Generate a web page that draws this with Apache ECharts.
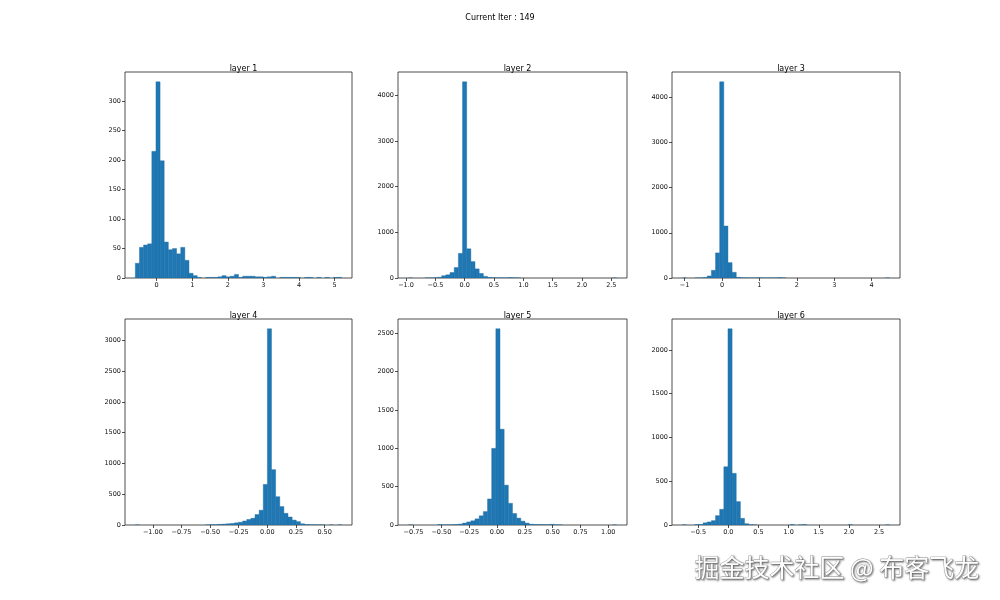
<!DOCTYPE html>
<html>
<head>
<meta charset="utf-8">
<script src="https://cdn.jsdelivr.net/npm/echarts@6/dist/echarts.min.js"></script>
<style>
  html, body { margin: 0; padding: 0; background: #fff; }
  #main { width: 1000px; height: 600px; }
</style>
</head>
<body>
<div id="main"></div>
<script>
// 每层的直方图 (50 bins)
var layerNames = ['layer 1', 'layer 2', 'layer 3', 'layer 4', 'layer 5', 'layer 6']
var binRanges = [[-0.6, 5.2], [-0.96, 2.59], [-1.06, 4.48], [-1.153, 0.649], [-0.796, 1.075], [-0.762, 2.675]]

var layer1Counts = [25, 52, 56, 58, 215, 333, 199, 61, 48, 50, 41, 52, 30, 8, 4, 1,
  0, 1, 1, 1, 2, 4, 2, 3, 6, 1, 3, 3, 3, 2, 2, 1, 2, 3, 0, 1, 1, 1, 1, 1, 0, 1, 1, 0, 1, 0, 1, 0, 1, 1]
var layer2Counts = [1, 0, 0, 0, 1, 2, 5, 15, 50, 70, 120, 230, 540, 4300, 640, 360, 200, 100, 35, 12,
  5, 3, 2, 1, 10, 3, 1, 0, 0, 0, 0, 0, 0, 0, 0, 0, 0, 0, 0, 0, 0, 0, 0, 0, 0, 0, 0, 0, 0, 1]
var layer3Counts = [1, 0, 0, 1, 2, 10, 45, 170, 555, 4340, 1150, 340, 126, 15, 5, 2, 1, 1, 5, 1,
  1, 1, 2, 8, 1, 0, 0, 0, 0, 0, 0, 0, 0, 0, 0, 0, 0, 0, 0, 0, 0, 0, 0, 0, 0, 0, 0, 0, 0, 1]
var layer4Counts = [1, 0, 0, 0, 0, 0, 0, 0, 0, 0, 0, 0, 0, 0, 0, 0, 0, 1, 4, 6,
  10, 14, 20, 25, 35, 45, 65, 90, 110, 170, 240, 660, 3190, 900, 460, 300, 190, 130, 80, 55,
  20, 8, 5, 3, 2, 1, 0, 1, 0, 1]
var layer5Counts = [1, 0, 0, 0, 0, 0, 0, 5, 2, 2, 3, 6, 12, 25, 40, 55, 80, 120, 175, 340,
  1000, 2560, 1250, 520, 283, 150, 90, 50, 25, 10, 6, 5, 4, 3, 8, 2, 1, 0, 0, 0,
  0, 0, 0, 0, 0, 0, 0, 0, 0, 1]
var layer6Counts = [1, 0, 0, 5, 5, 25, 35, 50, 107, 179, 665, 2240, 590, 267, 76, 15, 3, 1, 0, 0,
  0, 0, 0, 0, 0, 0, 5, 0, 1, 4, 0, 0, 0, 0, 0, 0, 0, 0, 0, 0,
  3, 0, 0, 0, 0, 0, 0, 0, 0, 1]
var allCounts = [layer1Counts, layer2Counts, layer3Counts, layer4Counts, layer5Counts, layer6Counts]

// 刻度
var xTicks = [
  [0, 1, 2, 3, 4, 5],
  [-1.0, -0.5, 0.0, 0.5, 1.0, 1.5, 2.0, 2.5],
  [-1, 0, 1, 2, 3, 4],
  [-1.0, -0.75, -0.5, -0.25, 0.0, 0.25, 0.5],
  [-0.75, -0.5, -0.25, 0.0, 0.25, 0.5, 0.75, 1.0],
  [-0.5, 0.0, 0.5, 1.0, 1.5, 2.0, 2.5]
]
var xTickDigits = [0, 1, 0, 2, 2, 1]
var yTicks = [
  [0, 50, 100, 150, 200, 250, 300, 350],
  [0, 1000, 2000, 3000, 4000],
  [0, 1000, 2000, 3000, 4000],
  [0, 500, 1000, 1500, 2000, 2500, 3000],
  [0, 500, 1000, 1500, 2000, 2500],
  [0, 500, 1000, 1500, 2000]
]

var gridLefts = [125, 398, 672]
var gridWidths = [227, 229, 228]
var gridTops = [72, 319]
var gridHeight = 206
var fontName = 'DejaVu Sans'

function fmt (v, d) {
  return v.toFixed(d).replace('-', '\u2212')
}

function renderBar (params, api) {
  if (!api.value(2)) return null
  var p0 = api.coord([api.value(0), 0])
  var p1 = api.coord([api.value(1), api.value(2)])
  return {
    type: 'rect',
    shape: { x: p0[0], y: p1[1], width: p1[0] - p0[0], height: p0[1] - p1[1] },
    style: { fill: '#1f77b4', stroke: '#1d6aa0', lineWidth: 0.4 }
  }
}

var grids = []
var xAxes = []
var yAxes = []
var series = []
var titles = [{
  text: 'Current Iter : 149',
  left: 'center',
  top: 9,
  textStyle: { fontFamily: fontName, fontSize: 8, fontWeight: 'normal', color: '#000' }
}]

for (var i = 0; i < 6; i++) {
  var col = i % 3
  var row = Math.floor(i / 3)
  var counts = allCounts[i]
  var lo = binRanges[i][0]
  var hi = binRanges[i][1]
  var w = (hi - lo) / counts.length
  var pad = (hi - lo) * 0.05
  var d = xTickDigits[i]

  grids.push({
    left: gridLefts[col], top: gridTops[row], width: gridWidths[col], height: gridHeight,
    show: true, borderColor: '#222', borderWidth: 0.8, backgroundColor: '#fff'
  })
  titles.push({
    text: layerNames[i],
    left: gridLefts[col] + gridWidths[col] / 2,
    top: gridTops[row] - 12,
    textAlign: 'center',
    textStyle: { fontFamily: fontName, fontSize: 8, fontWeight: 'normal', color: '#000' }
  })
  xAxes.push({
    type: 'value', gridIndex: i, min: lo - pad, max: hi + pad,
    splitLine: { show: false },
    axisLine: { show: false, onZero: false },
    axisTick: { show: true, length: 3, customValues: xTicks[i], lineStyle: { color: '#222', width: 0.8 } },
    axisLabel: {
      customValues: xTicks[i], margin: 4,
      fontFamily: fontName, fontSize: 6.5, color: '#111',
      formatter: (function (dd) { return function (v) { return fmt(v, dd) } })(d)
    }
  })
  yAxes.push({
    type: 'value', gridIndex: i, min: 0, max: Math.max.apply(null, counts) * 1.05,
    splitLine: { show: false },
    axisLine: { show: false, onZero: false },
    axisTick: { show: true, length: 3, customValues: yTicks[i], lineStyle: { color: '#222', width: 0.8 } },
    axisLabel: {
      customValues: yTicks[i], margin: 4,
      fontFamily: fontName, fontSize: 6.5, color: '#111',
      formatter: function (v) { return String(v) }
    }
  })
  var data = counts.map(function (c, k) { return [lo + k * w, lo + (k + 1) * w, c] })
  series.push({
    type: 'custom', name: layerNames[i], xAxisIndex: i, yAxisIndex: i,
    renderItem: renderBar,
    encode: { x: [0, 1], y: 2 },
    data: data,
    clip: true
  })
}

var myChart = echarts.init(document.getElementById('main'), null, { renderer: 'canvas' })
myChart.setOption({
  backgroundColor: '#fff',
  animation: false,
  title: titles,
  grid: grids,
  xAxis: xAxes,
  yAxis: yAxes,
  series: series,
  graphic: [{
    type: 'text',
    left: 694,
    top: 555,
    style: {
      text: '掘金技术社区 @ 布客飞龙',
      font: '25px "Noto Sans CJK SC"',
      fill: '#fdfdfd',
      stroke: '#9a9a9a',
      lineWidth: 0.8,
      textShadowColor: 'rgba(0,0,0,0.45)',
      textShadowBlur: 2,
      textShadowOffsetX: 1,
      textShadowOffsetY: 1
    }
  }]
})
</script>
</body>
</html>
